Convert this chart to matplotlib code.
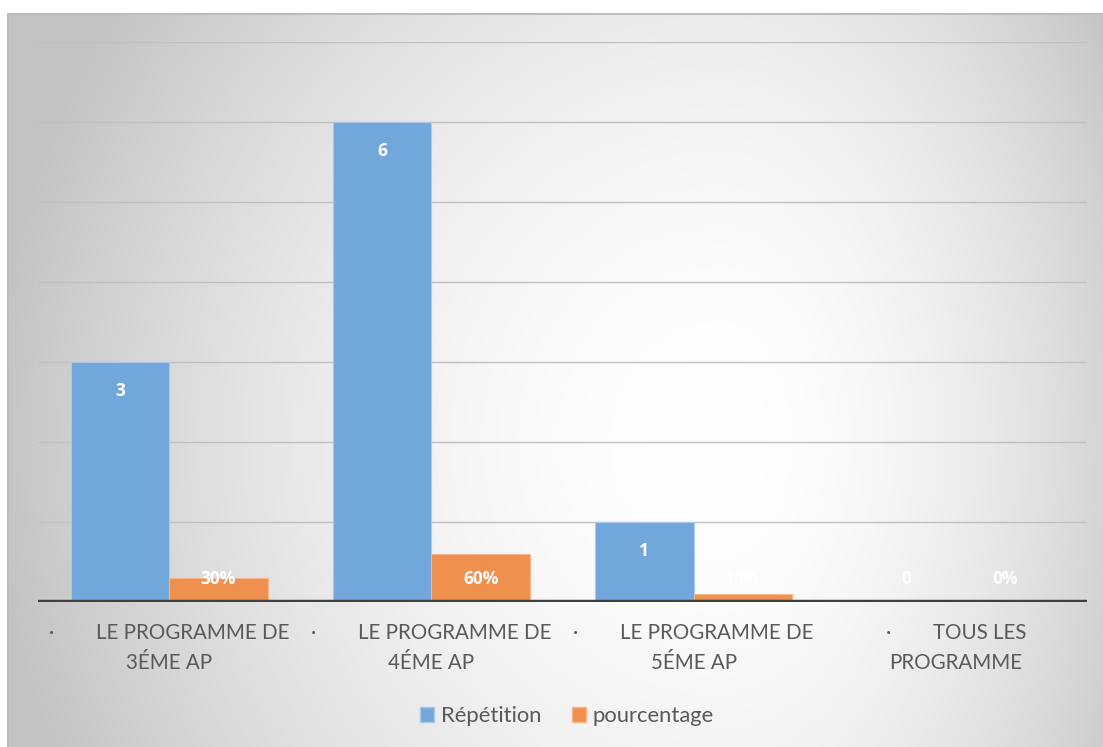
import matplotlib.pyplot as plt
from matplotlib.patches import Patch
import numpy as np

# Chart data
categories = ["LE PROGRAMME DE\n3ÉME AP", "LE PROGRAMME DE\n4ÉME AP",
              "LE PROGRAMME DE\n5ÉME AP", "TOUS LES\nPROGRAMME"]
repetition = [3, 6, 1, 0]
pourcentage = [0.30, 0.60, 0.10, 0.0]

BLUE = '#72a7db'
ORANGE = '#f0904f'
TEXT = '#595959'
FONT = 'Lato'
BOLD_FONT = ['Open Sans', 'DejaVu Sans']

W, H = 1103, 747
fig = plt.figure(figsize=(W / 100, H / 100), dpi=100)
fig.patch.set_facecolor('white')

# Background panel with a soft off-centre radial gradient
yy, xx = np.mgrid[0:H, 0:W]
cx0, cy0 = 720, 440
rx = np.where(xx > cx0, 470.0, 730.0)
r = np.sqrt(((xx - cx0) / rx) ** 2 + ((yy - cy0) / 780.0) ** 2)
shade = 255 - 60 * np.clip(r, 0, 1) ** 1.8
bg = np.repeat(shade[:, :, None], 3, axis=2) / 255.0
bg[:13, :, :] = 1.0
bg[:, :7, :] = 1.0
bg[13:15, 7:, :] = 0.74
bg[13:, 7:9, :] = 0.74
fig.figimage(bg, xo=0, yo=0, origin='upper', zorder=-1)

ax = fig.add_axes([38 / W, (H - 602) / H, 1049 / W, 560 / H])
ax.set_facecolor('none')

x = np.arange(len(categories))
bw = 0.3756
ax.bar(x - bw / 2, repetition, bw, color=BLUE, edgecolor='#a9c9ea', linewidth=0.8, zorder=3)
ax.bar(x + bw / 2, pourcentage, bw, color=ORANGE, edgecolor='#f5b68c', linewidth=0.8, zorder=3)

ax.set_xlim(-0.5, len(categories) - 0.5)
ax.set_ylim(0, 7)
for v in range(1, 8):
    ax.axhline(v, color='#c0c0c0', lw=1, zorder=1)
ax.axhline(0, color='#404040', lw=3.2, zorder=4)
for s in ax.spines.values():
    s.set_visible(False)
ax.set_xticks([])
ax.set_yticks([])

# Value labels inside the bars, kept above the baseline
def label_y(v):
    return max(v - 0.36, 0.29)

for xi, v in zip(x, repetition):
    ax.text(xi - bw / 2, label_y(v), f"{v}", color='white', fontsize=12.5,
            fontweight='bold', family=BOLD_FONT, ha='center', va='center', zorder=5)
for xi, v in zip(x, pourcentage):
    ax.text(xi + bw / 2, label_y(v), f"{round(v * 100)}%", color='white', fontsize=12.5,
            fontweight='bold', family=BOLD_FONT, ha='center', va='center', zorder=5)

# Category labels: bullet, gap, then the text block centred under the group
fig.canvas.draw()
renderer = fig.canvas.get_renderer()
px = 1049 / len(categories)
for i, cat in enumerate(categories):
    first, second = cat.split('\n')
    cx = 38 + px * (i + 0.5)
    t = fig.text((cx + 23.5) / W, 1 - 633 / H, first, fontsize=14.8, family=FONT,
                 color=TEXT, ha='center', va='center')
    tw = t.get_window_extent(renderer).width
    fig.text((cx - (47 + tw) / 2) / W, 1 - 633 / H, "·", fontsize=14.8, family=FONT,
             color=TEXT, ha='left', va='center')
    fig.text(cx / W, 1 - 663 / H, second, fontsize=14.8, family=FONT,
             color=TEXT, ha='center', va='center')

handles = [Patch(facecolor=BLUE, edgecolor='#a9c9ea'), Patch(facecolor=ORANGE, edgecolor='#f5b68c')]
fig.legend(handles, ["Répétition", "pourcentage"], loc='center', ncol=2,
           bbox_to_anchor=(567 / W, 1 - 716 / H), frameon=False,
           prop={'family': FONT, 'size': 15.8}, labelcolor=TEXT,
           handlelength=0.65, handleheight=0.65, handletextpad=0.3, columnspacing=1.4)

plt.savefig('out.png', dpi=100)
